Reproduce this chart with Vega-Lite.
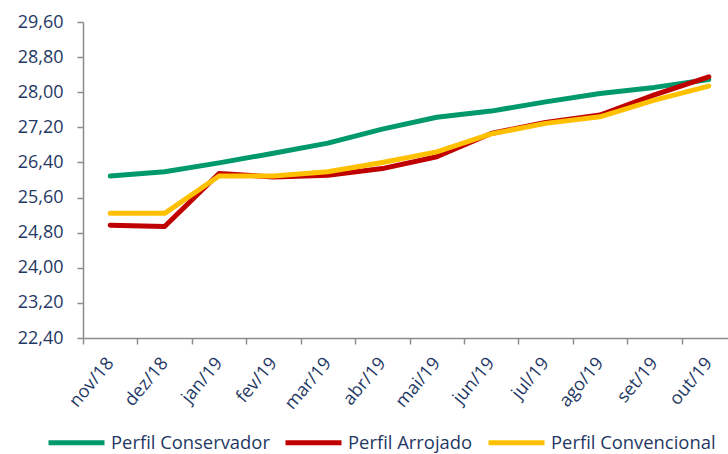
{
  "$schema": "https://vega.github.io/schema/vega-lite/v6.json",
  "autosize": {"type": "none"},
  "padding": {"left": 83, "top": 22, "right": 0, "bottom": 116},
  "width": 653,
  "height": 316,
  "background": "white",
  "config": {
    "view": {"stroke": null},
    "font": "Open Sans"
  },
  "data": {
    "values": [
      {"mes": "nov/18", "perfil": "Perfil Conservador", "valor": 26.09},
      {"mes": "dez/18", "perfil": "Perfil Conservador", "valor": 26.19},
      {"mes": "jan/19", "perfil": "Perfil Conservador", "valor": 26.39},
      {"mes": "fev/19", "perfil": "Perfil Conservador", "valor": 26.61},
      {"mes": "mar/19", "perfil": "Perfil Conservador", "valor": 26.84},
      {"mes": "abr/19", "perfil": "Perfil Conservador", "valor": 27.16},
      {"mes": "mai/19", "perfil": "Perfil Conservador", "valor": 27.43},
      {"mes": "jun/19", "perfil": "Perfil Conservador", "valor": 27.57},
      {"mes": "jul/19", "perfil": "Perfil Conservador", "valor": 27.78},
      {"mes": "ago/19", "perfil": "Perfil Conservador", "valor": 27.97},
      {"mes": "set/19", "perfil": "Perfil Conservador", "valor": 28.11},
      {"mes": "out/19", "perfil": "Perfil Conservador", "valor": 28.29},
      {"mes": "nov/18", "perfil": "Perfil Arrojado", "valor": 24.97},
      {"mes": "dez/18", "perfil": "Perfil Arrojado", "valor": 24.94},
      {"mes": "jan/19", "perfil": "Perfil Arrojado", "valor": 26.15},
      {"mes": "fev/19", "perfil": "Perfil Arrojado", "valor": 26.07},
      {"mes": "mar/19", "perfil": "Perfil Arrojado", "valor": 26.11},
      {"mes": "abr/19", "perfil": "Perfil Arrojado", "valor": 26.26},
      {"mes": "mai/19", "perfil": "Perfil Arrojado", "valor": 26.53},
      {"mes": "jun/19", "perfil": "Perfil Arrojado", "valor": 27.06},
      {"mes": "jul/19", "perfil": "Perfil Arrojado", "valor": 27.31},
      {"mes": "ago/19", "perfil": "Perfil Arrojado", "valor": 27.48},
      {"mes": "set/19", "perfil": "Perfil Arrojado", "valor": 27.94},
      {"mes": "out/19", "perfil": "Perfil Arrojado", "valor": 28.35},
      {"mes": "nov/18", "perfil": "Perfil Convencional", "valor": 25.24},
      {"mes": "dez/18", "perfil": "Perfil Convencional", "valor": 25.24},
      {"mes": "jan/19", "perfil": "Perfil Convencional", "valor": 26.09},
      {"mes": "fev/19", "perfil": "Perfil Convencional", "valor": 26.09},
      {"mes": "mar/19", "perfil": "Perfil Convencional", "valor": 26.19},
      {"mes": "abr/19", "perfil": "Perfil Convencional", "valor": 26.40},
      {"mes": "mai/19", "perfil": "Perfil Convencional", "valor": 26.64},
      {"mes": "jun/19", "perfil": "Perfil Convencional", "valor": 27.05},
      {"mes": "jul/19", "perfil": "Perfil Convencional", "valor": 27.29},
      {"mes": "ago/19", "perfil": "Perfil Convencional", "valor": 27.44},
      {"mes": "set/19", "perfil": "Perfil Convencional", "valor": 27.82},
      {"mes": "out/19", "perfil": "Perfil Convencional", "valor": 28.14}
    ]
  },
  "mark": {"type": "line", "strokeWidth": 5, "strokeCap": "round", "strokeJoin": "round"},
  "encoding": {
    "x": {
      "field": "mes",
      "type": "nominal",
      "sort": null,
      "scale": {"type": "band", "paddingInner": 0, "paddingOuter": 0},
      "axis": {
        "title": null,
        "labelAngle": -50,
        "labelAlign": "right",
        "labelBaseline": "middle",
        "labelFontSize": 18,
        "labelColor": "#1f3864",
        "labelPadding": 16,
        "tickBand": "extent",
        "tickSize": 6,
        "tickColor": "#8c8c8c",
        "tickWidth": 1.5,
        "domainColor": "#8c8c8c",
        "domainWidth": 1.5,
        "grid": false
      }
    },
    "y": {
      "field": "valor",
      "type": "quantitative",
      "scale": {"domain": [22.4, 29.6], "nice": false, "zero": false},
      "axis": {
        "title": null,
        "values": [22.4, 23.2, 24.0, 24.8, 25.6, 26.4, 27.2, 28.0, 28.8, 29.6],
        "labelExpr": "replace(format(datum.value, '.2f'), '.', ',')",
        "labelFontSize": 18,
        "labelColor": "#1f3864",
        "labelPadding": 14,
        "tickSize": 6,
        "tickColor": "#8c8c8c",
        "tickWidth": 1.5,
        "domainColor": "#8c8c8c",
        "domainWidth": 1.5,
        "grid": false
      }
    },
    "color": {
      "field": "perfil",
      "type": "nominal",
      "sort": ["Perfil Conservador", "Perfil Arrojado", "Perfil Convencional"],
      "scale": {
        "domain": ["Perfil Conservador", "Perfil Arrojado", "Perfil Convencional"],
        "range": ["#00996b", "#c00000", "#ffc000"]
      },
      "legend": {
        "title": null,
        "orient": "none",
        "direction": "horizontal",
        "legendX": -37,
        "legendY": 390,
        "symbolType": "stroke",
        "symbolSize": 3136,
        "symbolStrokeWidth": 5,
        "labelFontSize": 18.4,
        "labelColor": "#1f3864",
        "labelOffset": 4,
        "columnPadding": 5,
        "labelLimit": 300
      }
    }
  }
}
